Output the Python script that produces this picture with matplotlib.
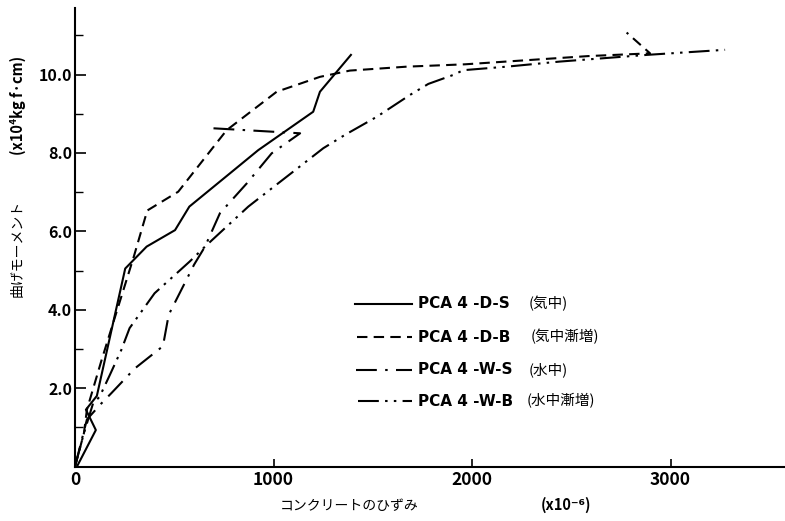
import matplotlib
matplotlib.use("Agg")
import matplotlib.pyplot as plt

plt.rcParams['font.family'] = ['Noto Sans CJK JP', 'DejaVu Sans']

# PCA4-D-S (気中)
ds_x = [10, 105, 55, 110, 253, 361, 504, 576, 781, 923, 1200, 1234, 1390]
ds_y = [0.0, 0.93, 1.45, 1.80, 5.05, 5.61, 6.03, 6.63, 7.48, 8.07, 9.05, 9.56, 10.50]

# PCA4-D-B (気中漸増)
db_x = [0, 45, 60, 133, 296, 364, 520, 764, 1016, 1234, 1385, 1671, 1965, 2586, 2897, 2779]
db_y = [0.0, 0.85, 1.45, 2.70, 5.35, 6.53, 7.01, 8.58, 9.56, 9.94, 10.10, 10.20, 10.26, 10.47, 10.54, 11.07]

# PCA4-W-S (水中)
ws_x = [0, 60, 133, 183, 301, 443, 472, 600, 655, 730, 865, 991, 1134, 689]
ws_y = [0.0, 1.20, 1.61, 1.87, 2.50, 3.07, 3.87, 5.15, 5.61, 6.46, 7.22, 7.99, 8.50, 8.63]

# PCA4-W-B (水中漸増)
wb_x = [0, 45, 91, 124, 175, 233, 275, 401, 578, 655, 873, 1251, 1360, 1520, 1688, 1780, 1906, 1956, 2175, 2443, 2880, 3275]
wb_y = [0.0, 0.85, 1.61, 1.78, 2.33, 2.97, 3.53, 4.42, 5.23, 5.61, 6.63, 8.12, 8.46, 8.92, 9.48, 9.76, 9.99, 10.11, 10.20, 10.33, 10.50, 10.63]

x_ticks = [0, 1000, 2000, 3000]
x_ticklabels = ['0', '1000', '2000', '3000']
y_ticks = [2.0, 4.0, 6.0, 8.0, 10.0]
y_ticklabels = ['2.0', '4.0', '6.0', '8.0', '10.0']
y_minor = [1, 3, 5, 7, 9, 11]

legend_codes = ['PCA 4 -D-S', 'PCA 4 -D-B', 'PCA 4 -W-S', 'PCA 4 -W-B']
legend_notes = ['(気中)', '(気中漸増)', '(水中)', '(水中漸増)']

fig = plt.figure(figsize=(7.85, 5.21), dpi=100)
W, H = 785, 521
ax = fig.add_axes([75 / W, (H - 466.5) / H, (W - 75) / W, (466.5 - 8) / H])
ax.set_xlim(0, (W - 75) / 0.1985)
ax.set_ylim(0, (466.5 - 8) / 39.2)

lw = 1.5
styles = [
    dict(linestyle='-'),
    dict(linestyle=(0, (5, 3))),
    dict(linestyle=(0, (10, 4, 1.2, 4))),
    dict(linestyle=(0, (10, 3, 1.2, 3, 1.2, 3))),
]
series = [(ds_x, ds_y), (db_x, db_y), (ws_x, ws_y), (wb_x, wb_y)]
for (xs, ys), st in zip(series, styles):
    ax.plot(xs, ys, color='black', linewidth=lw, **st)

for s in ['top', 'right']:
    ax.spines[s].set_visible(False)
for s in ['left', 'bottom']:
    ax.spines[s].set_linewidth(1.5)

ax.set_xticks(x_ticks)
ax.set_xticklabels(x_ticklabels)
ax.set_yticks(y_ticks)
ax.set_yticklabels(y_ticklabels)
ax.set_yticks(y_minor, minor=True)
ax.tick_params(axis='x', direction='in', length=6, width=1.2, labelsize=12.5, pad=3)
ax.tick_params(axis='y', direction='in', length=8, width=1.2, labelsize=11.5, pad=2)
ax.tick_params(axis='y', which='minor', direction='in', length=6, width=1.0)
for lab in ax.get_xticklabels() + ax.get_yticklabels():
    lab.set_fontweight('bold')

# Axis titles
fig.text(18 / W, 1 - 248 / H, '曲げモーメント', rotation=90, ha='center', va='center', fontsize=10)
fig.text(18 / W, 1 - 105 / H, '(x10⁴kg f·cm)', rotation=90, ha='center', va='center', fontsize=10.5, fontweight='bold')
fig.text(349 / W, 1 - 506 / H, 'コンクリートのひずみ', ha='center', va='center', fontsize=10)
fig.text(566 / W, 1 - 505 / H, '(x10⁻⁶)', ha='center', va='center', fontsize=10.5, fontweight='bold')

# Legend
rows_y = [304, 337, 370, 401]
line_x0 = [355, 357, 356, 358]
note_x = [529, 531, 529, 527]
for i, (code, note) in enumerate(zip(legend_codes, legend_notes)):
    yy = 1 - rows_y[i] / H
    fig.add_artist(plt.Line2D([line_x0[i] / W, 412 / W], [yy, yy], color='black', linewidth=lw,
                              transform=fig.transFigure, **styles[i]))
    fig.text(418 / W, yy, code, ha='left', va='center', fontsize=11, fontweight='bold',
             family='DejaVu Sans')
    fig.text(note_x[i] / W, yy, note, ha='left', va='center', fontsize=10.5)

fig.savefig('out.png', dpi=100)
